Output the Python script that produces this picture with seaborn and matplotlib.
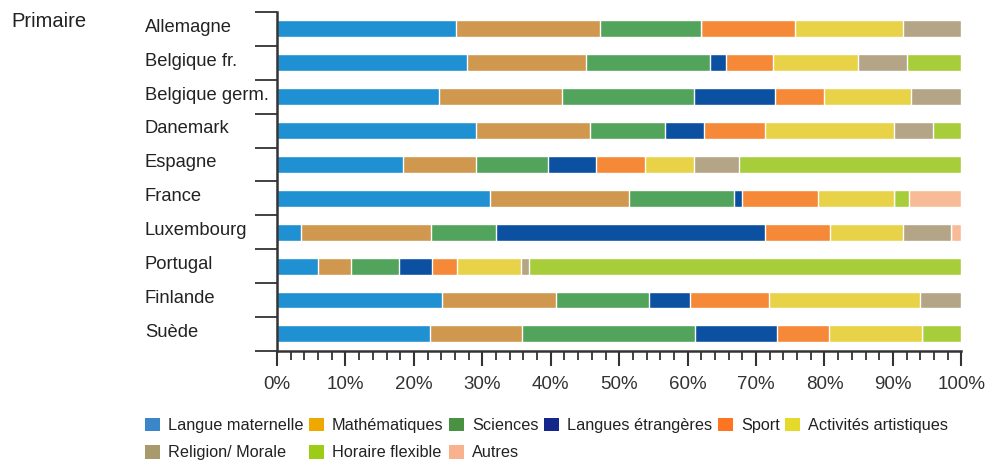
import numpy as np
import pandas as pd
import seaborn as sns
import matplotlib.pyplot as plt
from matplotlib.patches import Patch
from matplotlib import transforms

# data (share of teaching time, %)
pays = ["Allemagne", "Belgique fr.", "Belgique germ.", "Danemark", "Espagne",
        "France", "Luxembourg", "Portugal", "Finlande", "Suède"]
matieres = ["Langue maternelle", "Mathématiques", "Sciences", "Langues étrangères",
            "Sport", "Activités artistiques", "Religion/ Morale", "Horaire flexible", "Autres"]

langue_maternelle = [26.2, 27.8, 23.7, 29.1, 18.4, 31.1, 3.5, 6.0, 24.1, 22.4]
mathematiques = [21.0, 17.4, 18.0, 16.7, 10.7, 20.4, 19.0, 4.8, 16.7, 13.4]
sciences = [14.8, 18.1, 19.3, 10.9, 10.5, 15.3, 9.5, 7.0, 13.6, 25.3]
langues_etrangeres = [0.0, 2.3, 11.8, 5.7, 7.0, 1.2, 39.3, 4.9, 6.0, 12.0]
sport = [13.7, 6.9, 7.2, 8.9, 7.2, 11.1, 9.5, 3.6, 11.5, 7.5]
activites_artistiques = [15.7, 12.4, 12.7, 18.9, 7.2, 11.0, 10.7, 9.4, 22.0, 13.6]
religion_morale = [8.6, 7.2, 7.3, 5.6, 6.5, 0.0, 7.0, 1.1, 6.1, 0.0]
horaire_flexible = [0.0, 7.9, 0.0, 4.2, 32.5, 2.3, 0.0, 63.2, 0.0, 5.8]
autres = [0.0, 0.0, 0.0, 0.0, 0.0, 7.6, 1.5, 0.0, 0.0, 0.0]

couleurs_barres = ["#1f91d2", "#cf984e", "#52a35b", "#0c50a2", "#f58937",
                   "#e8d348", "#b3a585", "#a7ce3a", "#f7bb98"]
couleurs_legende = ["#3a86c8", "#efa800", "#4a9141", "#14288c", "#ff7420",
                    "#e5d92a", "#a99a6b", "#9dcc16", "#f9b28e"]

sns.set_style("white")
plt.rcParams["font.family"] = ["Liberation Sans", "DejaVu Sans"]

df = pd.DataFrame({"pays": pays})
series = [langue_maternelle, mathematiques, sciences, langues_etrangeres, sport,
          activites_artistiques, religion_morale, horaire_flexible, autres]
cumul = np.cumsum(np.array(series), axis=0)

fig = plt.figure(figsize=(9.86, 4.61), dpi=100)
ax = fig.add_axes([0.281, 0.239, 0.694, 0.735])

# stacked bars: longest cumulative first, the shorter ones on top
for i in range(len(matieres) - 1, -1, -1):
    df["v"] = cumul[i]
    sns.barplot(data=df, x="v", y="pays", color=couleurs_barres[i], width=0.5,
                saturation=1, ax=ax, orient="h")

ax.set_xlim(0, 100)
ax.set_ylim(9.5, -0.5)
ax.set_xlabel("")
ax.set_ylabel("")
sns.despine(ax=ax)
for s in ["left", "bottom"]:
    ax.spines[s].set_color("#333333")
    ax.spines[s].set_linewidth(1.8)

ax.set_xticks(np.arange(0, 101, 10))
ax.set_xticklabels([f"{v}%" for v in range(0, 101, 10)])
ax.set_xticks(np.arange(0, 101, 2), minor=True)
ax.tick_params(axis="x", which="major", direction="out", length=11, width=1.5,
               color="#333333", labelsize=13.5, labelcolor="#333333", pad=7, bottom=True)
ax.tick_params(axis="x", which="minor", direction="out", length=6.5, width=1.3,
               color="#333333", bottom=True)

ax.set_yticks(range(len(pays)))
ax.set_yticklabels([])
ax.set_yticks(np.arange(-0.5, len(pays), 1), minor=True)
ax.tick_params(axis="y", which="major", length=0)
ax.tick_params(axis="y", which="minor", direction="out", length=16, width=1.3,
               color="#333333", left=True)

trans = transforms.blended_transform_factory(fig.transFigure, ax.transData)
for i, p in enumerate(pays):
    ax.text(0.147, i - 0.05, p, transform=trans, ha="left", va="center",
            fontsize=13.2, color="#222222")

fig.text(0.012, 0.953, "Primaire", ha="left", va="center", fontsize=14.5, color="#222222")

handles = [Patch(facecolor=c, edgecolor="none") for c in couleurs_legende]
ordre = [0, 6, 1, 7, 2, 8, 3, 4, 5]
fig.legend([handles[k] for k in ordre], [matieres[k] for k in ordre],
           ncol=6, loc="upper left", bbox_to_anchor=(0.147, 0.094),
           frameon=False, fontsize=11.7, handlelength=0.92, handleheight=0.92,
           handletextpad=0.48, columnspacing=0.36, labelspacing=0.72,
           borderpad=0, borderaxespad=0, labelcolor="#222222")

fig.savefig("out.png", dpi=100)
